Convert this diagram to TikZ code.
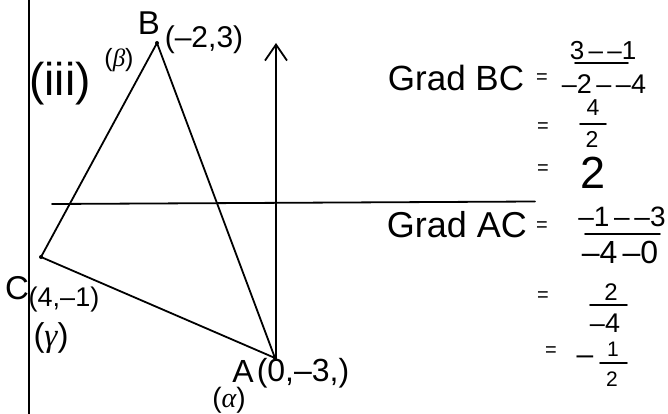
\documentclass[tikz,border=0pt]{standalone}
\usepackage{fontspec}
\setmainfont{Liberation Sans}
\usetikzlibrary{arrows.meta}
\newfontfamily\grk{Liberation Serif}
\newcommand\fsz[1]{\fontsize{#1}{#1}\selectfont}
\tikzset{
  ln/.style={line width=1.8pt, line cap=round},
  fbar/.style={line width=1.6pt, line cap=round},
  lbl/.style={inner sep=0pt, anchor=center},
  vdot/.style={circle, fill=black, inner sep=0pt, minimum size=4pt},
}
\begin{document}
\begin{tikzpicture}[x=1pt,y=-1pt]
\useasboundingbox (0,0) rectangle (668,414);
% border line
\coordinate (bordT) at (29,0);
\coordinate (bordB) at (29,414);
\draw[line width=2.2pt] (bordT) -- (bordB);
% axes
\coordinate (xL) at (52,204);
\coordinate (xR) at (535,201.5);
\draw[ln] (xL) -- (xR);
\coordinate (yB) at (276,360);
\coordinate (yT) at (276,43);
\draw[ln, -{Straight Barb[length=16pt,width=22pt,line width=1.8pt]}] (yB) -- (yT);
% triangle vertices
\node[vdot] (B) at (157,43) {};
\node[vdot] (C) at (41,257) {};
\node[vdot] (A) at (275,358) {};
\draw[ln] (B.center) -- (C.center) -- (A.center) -- (B.center);
% left labels
\node[lbl, font=\fsz{33}] (labB) at (149,23) {B};
\node[lbl, font=\fsz{30}] (coB) at (204,40) {(–2,3)};
\node[lbl, font=\fsz{25}] (grB) at (119,60) {({\grk\itshape β})};
\node[lbl, font=\fsz{46}] (iii) at (60,84) {(iii)};
\node[lbl, font=\fsz{33}] (labC) at (17,288) {C};
\node[lbl, font=\fsz{27}] (coC) at (64,300) {(4,–1)};
\node[lbl, font=\fsz{33}] (grC) at (51,338) {({\grk\itshape γ})};
\node[lbl, font=\fsz{32}] (labA) at (243,371) {A};
\node[lbl, font=\fsz{32}] (coA) at (303,373) {(0,–3,)};
\node[lbl, font=\fsz{28}] (grA) at (229,400) {({\grk\itshape α})};
% right: Grad BC
\node[lbl, font=\fsz{35}] (gbc) at (456,78) {Grad BC};
\node[lbl, font=\fsz{20}] (e1) at (542,79) {=};
\node[lbl, font=\fsz{26}] (n1) at (603,51) {3\,–\,–1};
\coordinate (b1l) at (575,63); \coordinate (b1r) at (628,63);
\draw[fbar] (b1l) -- (b1r);
\node[lbl, font=\fsz{27}] (d1) at (604,84) {–2\,–\,–4};
\node[lbl, font=\fsz{20}] (e2) at (543,128) {=};
\node[lbl, font=\fsz{23}] (n2) at (593,108) {4};
\coordinate (b2l) at (580,124); \coordinate (b2r) at (606,124);
\draw[fbar] (b2l) -- (b2r);
\node[lbl, font=\fsz{23}] (d2) at (592,139) {2};
\node[lbl, font=\fsz{20}] (e3) at (543,170) {=};
\node[lbl, font=\fsz{45}] (v3) at (593,173) {2};
% Grad AC
\node[lbl, font=\fsz{36}] (gac) at (457,225) {Grad AC};
\node[lbl, font=\fsz{20}] (e4) at (542,227) {=};
\node[lbl, font=\fsz{28}] (n4) at (622,217) {–1\,–\,–3};
\coordinate (b4l) at (585,234); \coordinate (b4r) at (660,234);
\draw[fbar] (b4l) -- (b4r);
\node[lbl, font=\fsz{32}] (d4) at (620,252) {–4\,–0};
\node[lbl, font=\fsz{20}] (e5) at (543,297) {=};
\node[lbl, font=\fsz{24}] (n5) at (611,292) {2};
\coordinate (b5l) at (590,305); \coordinate (b5r) at (627,305);
\draw[fbar] (b5l) -- (b5r);
\node[lbl, font=\fsz{27}] (d5) at (605,323) {–4};
\node[lbl, font=\fsz{20}] (e6) at (551,352) {=};
\node[lbl, font=\fsz{30}] (m6) at (585,360) {–};
\node[lbl, font=\fsz{21}] (n6) at (613,349) {1};
\coordinate (b6l) at (600,363); \coordinate (b6r) at (627,363);
\draw[fbar] (b6l) -- (b6r);
\node[lbl, font=\fsz{21}] (d6) at (612,379) {2};
\end{tikzpicture}
\end{document}
